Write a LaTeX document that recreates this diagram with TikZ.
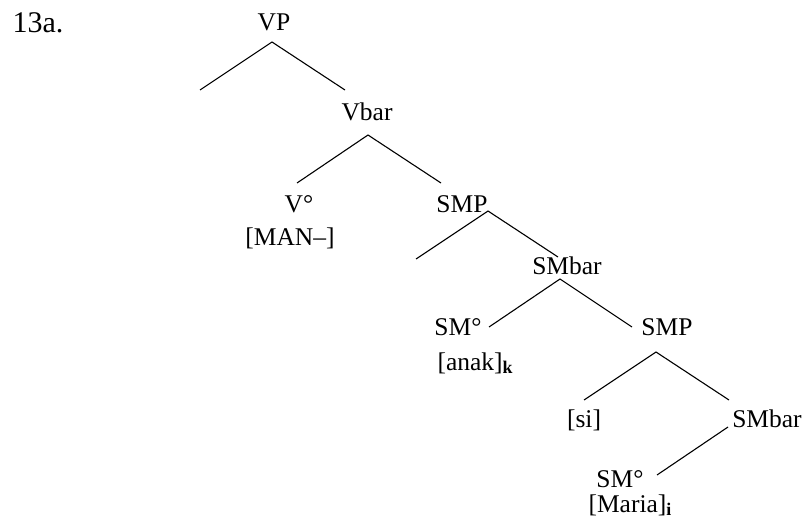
\documentclass[tikz,border=0pt]{standalone}
\usepackage{fontspec}
\setmainfont{Liberation Serif}
\begin{document}
\begin{tikzpicture}[x=1pt, y=-1pt, line width=1.1pt,
    lbl/.style={inner sep=0pt, anchor=base, font=\fontsize{25.5}{30}\selectfont}]
    \useasboundingbox (0, 0) rectangle (802, 525);

    \node[lbl, anchor=base west, font=\fontsize{30}{34}\selectfont] (ex) at (12, 32) {13a.};

    \node[lbl] (vp) at (274, 30) {VP};
    \node[lbl] (vbar) at (367, 120) {Vbar};
    \node[lbl] (v0) at (299, 212) {V°};
    \node[lbl] (man) at (290, 245) {[MAN--]};
    \node[lbl] (smp1) at (462, 212) {SMP};
    \node[lbl] (smbar1) at (567, 274) {SMbar};
    \node[lbl] (sm1) at (458, 335) {SM°};
    \node[lbl, anchor=base west] (anak) at (437, 370) {[anak]\textsubscript{\textbf{k}}};
    \node[lbl] (smp2) at (667, 335) {SMP};
    \node[lbl] (si) at (584, 427) {[si]};
    \node[lbl] (smbar2) at (767, 427) {SMbar};
    \node[lbl] (sm2) at (620, 487) {SM°};
    \node[lbl, anchor=base west] (maria) at (588, 512) {[Maria]\textsubscript{\textbf{i}}};

    \coordinate (vpfork) at (272, 42);
    \coordinate (vpleft) at (200, 90);
    \coordinate (vpright) at (345, 90);
    \coordinate (vbarfork) at (368, 135);
    \coordinate (vbarleft) at (297, 183);
    \coordinate (vbarright) at (441, 183);
    \coordinate (smp1fork) at (488, 211);
    \coordinate (smp1left) at (416, 259);
    \coordinate (smp1right) at (558, 257);
    \coordinate (smbar1fork) at (560, 279);
    \coordinate (smbar1left) at (489, 327);
    \coordinate (smbar1right) at (632, 327);
    \coordinate (smp2fork) at (656, 352);
    \coordinate (smp2left) at (584, 400);
    \coordinate (smp2right) at (729, 400);
    \coordinate (smbar2fork) at (728, 427);
    \coordinate (smbar2left) at (657, 475);

    \draw (vpleft) -- (vpfork) -- (vpright);
    \draw (vbarleft) -- (vbarfork) -- (vbarright);
    \draw (smp1left) -- (smp1fork) -- (smp1right);
    \draw (smbar1left) -- (smbar1fork) -- (smbar1right);
    \draw (smp2left) -- (smp2fork) -- (smp2right);
    \draw (smbar2fork) -- (smbar2left);
\end{tikzpicture}
\end{document}
